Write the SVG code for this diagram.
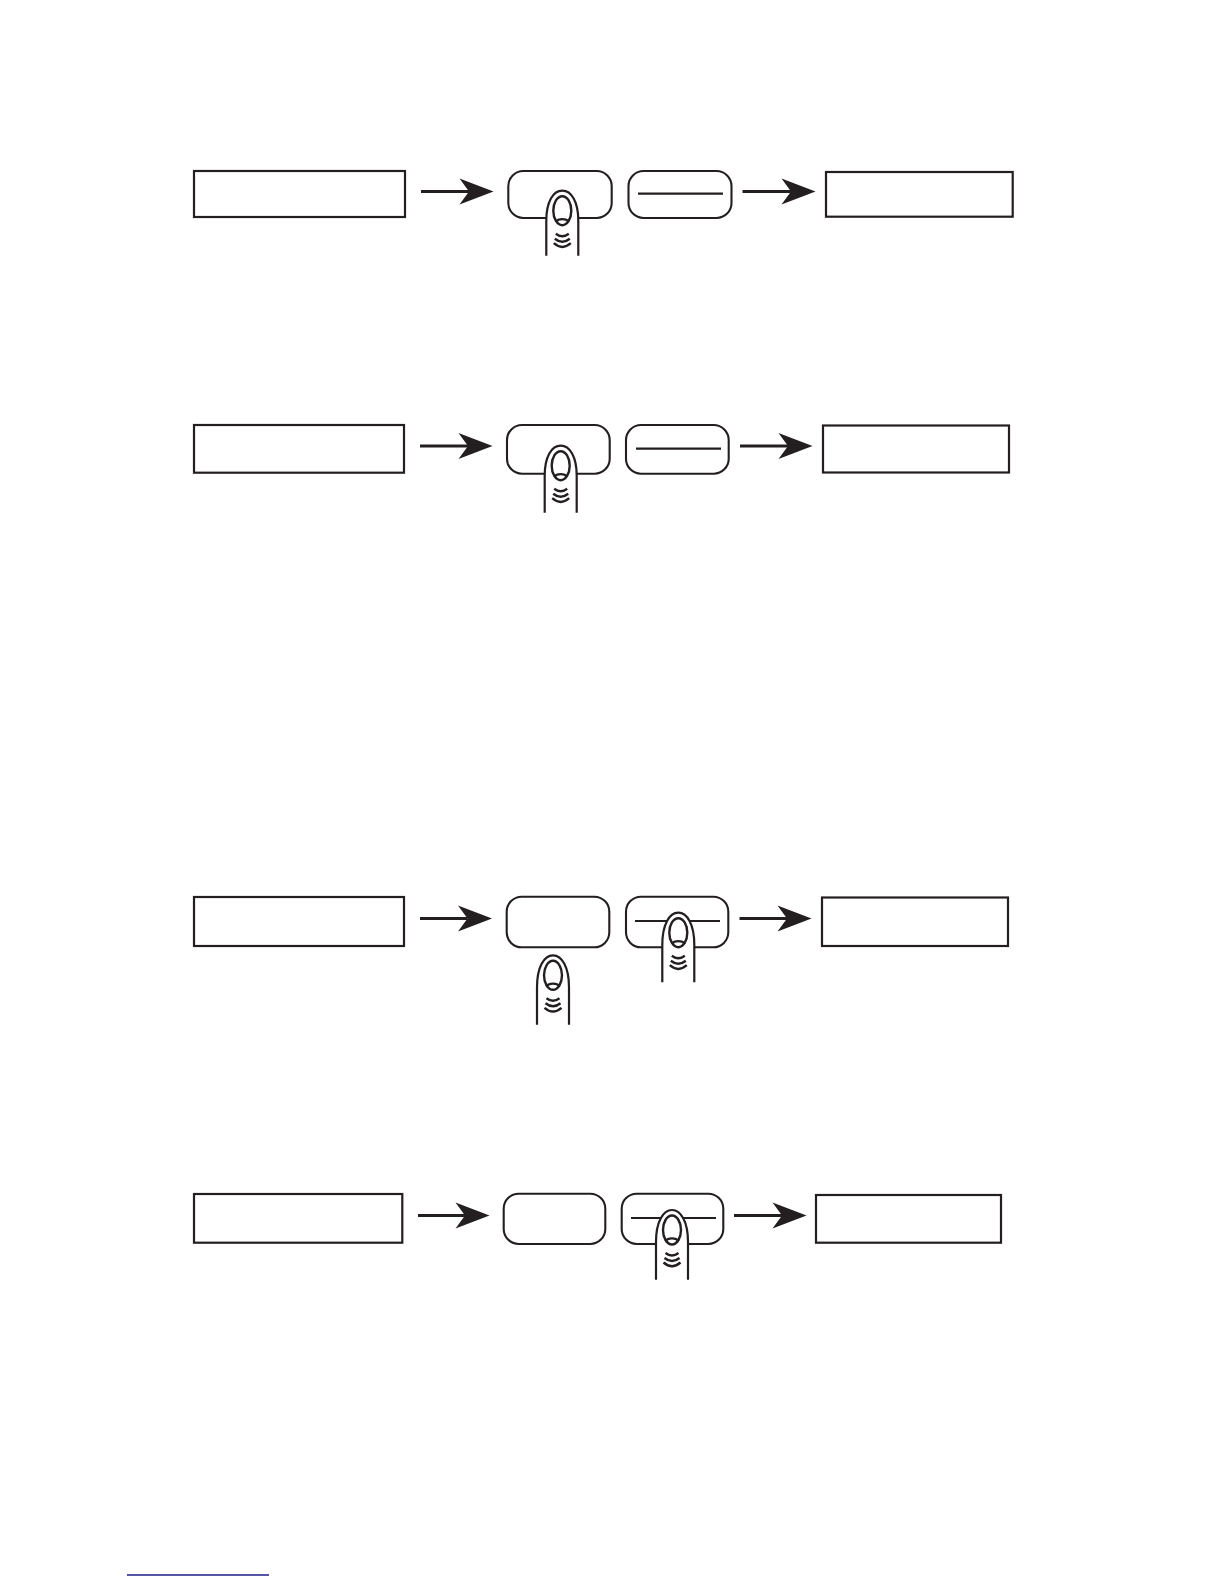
<svg xmlns="http://www.w3.org/2000/svg" xmlns:xlink="http://www.w3.org/1999/xlink" width="1224" height="1584" viewBox="0 0 1224 1584">
<style>
.box{fill:#fff;stroke:#231f20;stroke-width:2.2}
.btn{fill:#fff;stroke:#231f20;stroke-width:2.1}
.bar{stroke:#231f20;stroke-width:2.2;fill:none}
.arrow{stroke:#231f20;stroke-width:2.8;fill:none;marker-end:url(#head)}
.f{fill:#fff;stroke:#231f20;stroke-width:2.2}
.n{fill:none;stroke:#231f20;stroke-width:2.4}
</style>
<defs>
<marker id="head" markerUnits="userSpaceOnUse" markerWidth="35" markerHeight="28" refX="10" refY="14" orient="auto" viewBox="0 0 35 28"><path d="M0.5 1 L34.5 14 L0.5 27 L10 14Z" fill="#231f20"/></marker>
<g id="tip">
<ellipse class="n" cx="0" cy="20" rx="9" ry="14.5"/>
<path class="n" d="M-6.5 31 C-4 27.5 4 27.5 6.500 31"/>
<path class="n" d="M-6.500 43 Q0 48 6.500 43 M-7.500 48 Q0 54 7.500 48 M-8.500 52.500 Q0 60 8.500 52.500"/>
</g>
</defs>
<rect width="1224" height="1584" fill="#fff"/>

<g id="connectors">
<line class="arrow" x1="421" y1="191.5" x2="469" y2="191.5"/>
<line class="arrow" x1="742.5" y1="191.5" x2="791" y2="191.5"/>
<line class="arrow" x1="420" y1="446" x2="468" y2="446"/>
<line class="arrow" x1="740" y1="446" x2="788" y2="446"/>
<line class="arrow" x1="420" y1="918.5" x2="467.5" y2="918.5"/>
<line class="arrow" x1="739.5" y1="918.5" x2="787" y2="918.5"/>
<line class="arrow" x1="418" y1="1215.5" x2="465" y2="1215.5"/>
<line class="arrow" x1="734" y1="1215.5" x2="782" y2="1215.5"/>
</g>

<g id="row1">
<rect id="display1a" class="box" x="194" y="171" width="211" height="46"/>
<g id="btn1a"><rect class="btn" x="508.3" y="171" width="103.4" height="47" rx="15"/></g>
<g id="btn1b"><rect class="btn" x="628.5" y="171" width="103" height="47" rx="15"/><line class="bar" x1="638" y1="193.7" x2="723" y2="193.7"/></g>
<rect id="display1b" class="box" x="826" y="172" width="186.7" height="44.7"/>
<g id="finger1" transform="translate(562.3 190.7)"><path class="f" d="M-16 65V30C-16 11-9 0 0 0S16 11 16 30V65"/><use href="#tip" xlink:href="#tip"/></g>
</g>

<g id="row2">
<rect id="display2a" class="box" x="194" y="425" width="210" height="47.7"/>
<g id="btn2a"><rect class="btn" x="507" y="425" width="102.7" height="48.7" rx="15"/></g>
<g id="btn2b"><rect class="btn" x="626" y="425" width="102.7" height="48.7" rx="15"/><line class="bar" x1="636" y1="448.7" x2="721" y2="448.7"/></g>
<rect id="display2b" class="box" x="823" y="425.5" width="186" height="47"/>
<g id="finger2" transform="translate(560.7 445.7)"><path class="f" d="M-16 67V30C-16 11-9 0 0 0S16 11 16 30V67"/><use href="#tip" xlink:href="#tip"/></g>
</g>

<g id="row3">
<rect id="display3a" class="box" x="194" y="897" width="210" height="49"/>
<g id="btn3a"><rect class="btn" x="506.7" y="896.7" width="102.6" height="50.6" rx="15"/></g>
<g id="btn3b"><rect class="btn" x="626" y="896.7" width="102.3" height="50.6" rx="15"/><line class="bar" x1="635" y1="921" x2="720" y2="921"/></g>
<rect id="display3b" class="box" x="822" y="897.5" width="186" height="48.5"/>
<g id="finger3a" transform="translate(553 955.3)"><path class="f" d="M-16 69.5V32C-16 12-9 0 0 0S16 12 16 32V69.5"/><use href="#tip" xlink:href="#tip"/></g>
<g id="finger3b" transform="translate(678.3 912.7)"><path class="f" d="M-16 69.5V32C-16 12-9 0 0 0S16 12 16 32V69.5"/><use href="#tip" xlink:href="#tip"/></g>
</g>

<g id="row4">
<rect id="display4a" class="box" x="194" y="1194" width="208.3" height="48.7"/>
<g id="btn4a"><rect class="btn" x="503.7" y="1193.7" width="101.6" height="50.3" rx="15"/></g>
<g id="btn4b"><rect class="btn" x="621.7" y="1193.7" width="101.6" height="50.3" rx="15"/><line class="bar" x1="631" y1="1218" x2="716" y2="1218"/></g>
<rect id="display4b" class="box" x="816" y="1195" width="185" height="47.7"/>
<g id="finger4" transform="translate(672 1210)"><path class="f" d="M-16 69.7V32C-16 12-9 0 0 0S16 12 16 32V69.7"/><use href="#tip" xlink:href="#tip"/></g>
</g>

<line id="footer-rule" x1="127" y1="1575" x2="269" y2="1575" stroke="#1c1c8c" stroke-width="1.3"/>
</svg>
